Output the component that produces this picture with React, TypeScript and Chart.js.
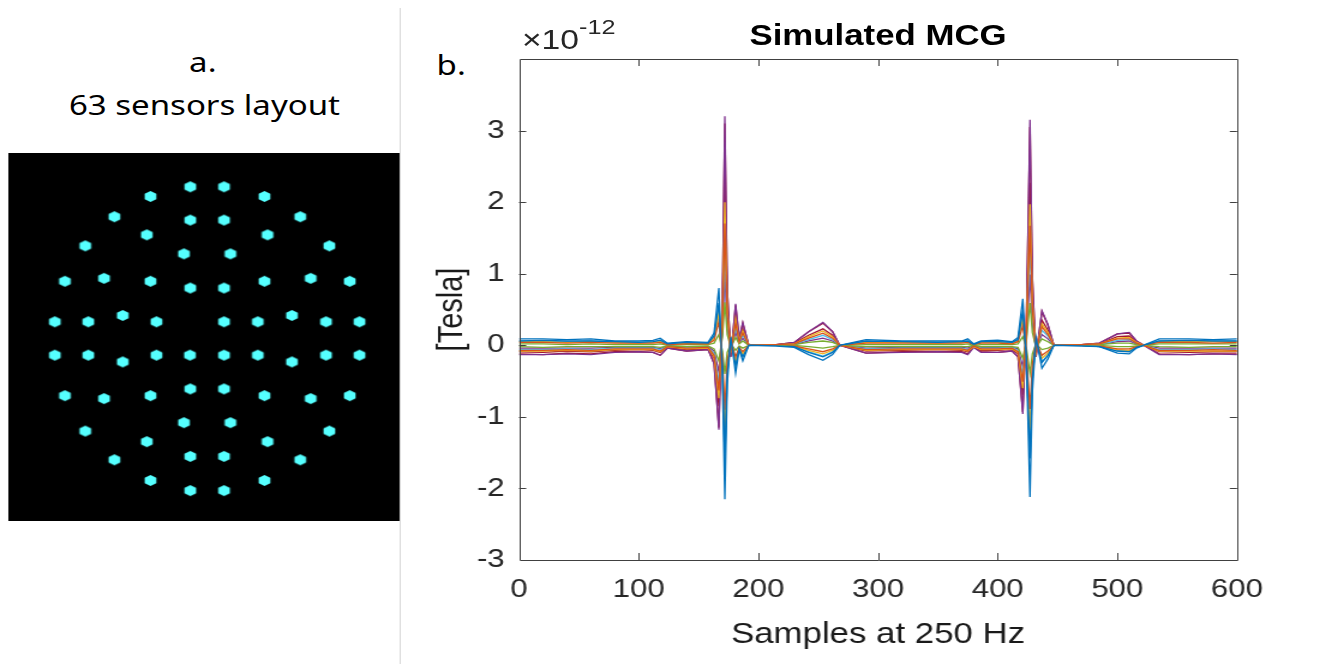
import React, { useEffect, useRef } from 'react';
import { Chart, registerables } from 'chart.js';

Chart.register(...registerables);

// ---------- Panel a: sensor layout (arbitrary layout units, centre = 0,0) ----------
const sensorX = [
  -50, 51, -169, 172, -277, 279, -50, 51, -180, 181, -364, 366, -69, 70,
  -308, 310, -425, -169, 172, 427, -50, 51, -252, 254,
  -455, -355, -151, 51, 152, 356, 456,
  -455, -355, -151, -51, 51, 152, 356, 456,
  -252, 254, -50, 51, -425, -169, 172, 427, -308, 310, -69, 70,
  -364, 366, -180, 181, -50, 51, -277, 279, -169, 172, -50, 51,
];
const sensorY = [
  360, 360, 337, 337, 289, 289, 281, 281, 246, 246, 220, 220, 201, 201,
  143, 143, 136, 136, 136, 136, 120, 120, 55, 55,
  40, 40, 40, 40, 40, 40, 40,
  -39, -39, -39, -39, -39, -39, -39, -39,
  -55, -55, -119, -119, -135, -135, -135, -135, -142, -142, -199, -199,
  -219, -219, -244, -244, -279, -279, -287, -287, -336, -336, -360, -360,
];

// ---------- Panel b: simulated MCG traces (units of 1e-12 T) ----------
const sampleKnots = [
  0, 20, 40, 60, 80, 100,
  112, 118, 124, 140, 158,
  163, 167, 170, 172, 174, 177, 181, 184, 187, 192,
  215, 230, 242, 254, 262, 268,
  290, 320, 350, 370, 375, 380, 386, 400,
  412, 417, 421, 424, 427, 429, 432, 437, 442, 447,
  470, 485, 500, 510, 516, 535, 560, 580, 600,
];

const traceA = [
  0.09, 0.09, 0.08, 0.09, 0.06, 0.06,
  0.07, 0.10, 0.03, 0.05, 0.04,
  0.17, 0.80, -0.43, -2.15, -0.54, 0.11, -0.39, -0.06, -0.22, 0,
  -0.01, -0.03, -0.13, -0.21, -0.13, 0,
  0.08, 0.06, 0.06, 0.06, 0.09, 0.02, 0.06, 0.07,
  0.05, 0.11, 0.65, -0.22, -2.12, -0.65, 0.11, -0.32, -0.19, 0,
  -0.01, -0.02, -0.11, -0.12, -0.04, 0.09, 0.09, 0.08, 0.09,
];
const traceB = [
  -0.07, -0.07, -0.06, -0.07, -0.05, -0.05,
  -0.05, -0.08, -0.02, -0.04, -0.03,
  -0.14, -0.63, 0.34, 1.70, 0.43, -0.09, 0.31, 0.05, 0.17, 0,
  0.01, 0.02, 0.10, 0.17, 0.10, 0,
  -0.06, -0.05, -0.05, -0.05, -0.07, -0.01, -0.05, -0.05,
  -0.04, -0.09, -0.51, 0.17, 1.67, 0.51, -0.09, 0.26, 0.15, 0,
  0.01, 0.02, 0.09, 0.09, 0.03, -0.07, -0.07, -0.06, -0.07,
];
const traceC = [
  -0.08, -0.08, -0.07, -0.08, -0.06, -0.06,
  -0.06, -0.09, -0.02, -0.05, -0.04,
  -0.16, -0.74, 0.40, 2.00, 0.50, -0.10, 0.36, 0.06, 0.20, 0,
  0.01, 0.02, 0.12, 0.20, 0.12, 0,
  -0.07, -0.06, -0.06, -0.06, -0.08, -0.02, -0.06, -0.06,
  -0.05, -0.10, -0.60, 0.20, 1.97, 0.60, -0.10, 0.30, 0.18, 0,
  0.01, 0.02, 0.10, 0.11, 0.04, -0.08, -0.08, -0.08, -0.08,
];
const traceD = [
  -0.13, -0.13, -0.12, -0.13, -0.10, -0.09,
  -0.10, -0.14, -0.04, -0.08, -0.06,
  -0.26, -1.18, 0.64, 3.20, 0.80, -0.16, 0.58, 0.10, 0.32, 0,
  0.01, 0.04, 0.19, 0.32, 0.19, 0,
  -0.11, -0.10, -0.09, -0.10, -0.13, -0.03, -0.10, -0.10,
  -0.08, -0.16, -0.96, 0.32, 3.15, 0.96, -0.16, 0.48, 0.29, 0,
  0.01, 0.03, 0.16, 0.18, 0.06, -0.13, -0.13, -0.12, -0.13,
];
const traceE = [
  -0.02, -0.03, -0.02, -0.02, -0.02, -0.02,
  -0.02, -0.03, -0.01, -0.02, -0.01,
  -0.05, -0.22, 0.12, 0.60, 0.15, -0.03, 0.11, 0.02, 0.06, 0,
  0, 0.01, 0.04, 0.06, 0.04, 0,
  -0.02, -0.02, -0.02, -0.02, -0.02, 0, -0.02, -0.02,
  -0.02, -0.03, -0.18, 0.06, 0.59, 0.18, -0.03, 0.09, 0.05, 0,
  0, 0.01, 0.03, 0.03, 0.01, -0.02, -0.03, -0.02, -0.02,
];
const traceF = [
  -0.06, -0.06, -0.05, -0.06, -0.04, -0.04,
  -0.04, -0.06, -0.02, -0.03, -0.03,
  -0.11, -0.52, 0.28, 1.40, 0.35, -0.07, 0.25, 0.04, 0.14, 0,
  0, 0.02, 0.08, 0.14, 0.08, 0,
  -0.05, -0.04, -0.04, -0.04, -0.06, -0.01, -0.04, -0.04,
  -0.03, -0.07, -0.42, 0.14, 1.38, 0.42, -0.07, 0.21, 0.13, 0,
  0, 0.01, 0.07, 0.08, 0.03, -0.06, -0.06, -0.05, -0.06,
];
const traceG = [
  -0.12, -0.13, -0.11, -0.12, -0.09, -0.09,
  -0.10, -0.14, -0.04, -0.08, -0.06,
  -0.25, -1.15, 0.62, 3.10, 0.78, -0.16, 0.56, 0.09, 0.31, 0,
  0.01, 0.04, 0.19, 0.31, 0.19, 0,
  -0.11, -0.09, -0.09, -0.09, -0.12, -0.02, -0.09, -0.10,
  -0.08, -0.16, -0.93, 0.31, 3.05, 0.93, -0.16, 0.47, 0.28, 0,
  0.01, 0.03, 0.16, 0.17, 0.06, -0.12, -0.13, -0.12, -0.12,
];
const traceH = [
  0.06, 0.07, 0.06, 0.06, 0.05, 0.04,
  0.05, 0.07, 0.02, 0.04, 0.03,
  0.13, 0.59, -0.32, -1.60, -0.40, 0.08, -0.29, -0.05, -0.16, 0,
  0, -0.02, -0.10, -0.16, -0.10, 0,
  0.06, 0.05, 0.04, 0.05, 0.06, 0.01, 0.05, 0.05,
  0.04, 0.08, 0.48, -0.16, -1.58, -0.48, 0.08, -0.24, -0.14, 0,
  0, -0.02, -0.08, -0.09, -0.03, 0.06, 0.07, 0.06, 0.06,
];
const traceI = [
  0.04, 0.04, 0.03, 0.04, 0.03, 0.03,
  0.03, 0.04, 0.01, 0.02, 0.02,
  0.07, 0.33, -0.18, -0.90, -0.23, 0.05, -0.16, -0.03, -0.09, 0,
  0, -0.01, -0.05, -0.09, -0.05, 0,
  0.03, 0.03, 0.03, 0.03, 0.04, 0.01, 0.03, 0.03,
  0.02, 0.05, 0.27, -0.09, -0.89, -0.27, 0.05, -0.14, -0.08, 0,
  0, -0.01, -0.05, -0.05, -0.02, 0.04, 0.04, 0.03, 0.04,
];
const traceJ = [
  0.05, 0.05, 0.04, 0.05, 0.04, 0.03,
  0.04, 0.05, 0.01, 0.03, 0.02,
  0.10, 0.44, -0.24, -1.20, -0.30, 0.06, -0.22, -0.04, -0.12, 0,
  0, -0.01, -0.07, -0.12, -0.07, 0,
  0.04, 0.04, 0.03, 0.04, 0.05, 0.01, 0.04, 0.04,
  0.03, 0.06, 0.36, -0.12, -1.18, -0.36, 0.06, -0.18, -0.11, 0,
  0, -0.01, -0.06, -0.07, -0.02, 0.05, 0.05, 0.05, 0.05,
];
const traceK = [
  -0.04, -0.04, -0.04, -0.04, -0.03, -0.03,
  -0.03, -0.05, -0.01, -0.03, -0.02,
  -0.08, -0.37, 0.20, 1.00, 0.25, -0.05, 0.18, 0.03, 0.10, 0,
  0, 0.01, 0.06, 0.10, 0.06, 0,
  -0.04, -0.03, -0.03, -0.03, -0.04, -0.01, -0.03, -0.03,
  -0.03, -0.05, -0.30, 0.10, 0.99, 0.30, -0.05, 0.15, 0.09, 0,
  0, 0.01, 0.05, 0.06, 0.02, -0.04, -0.04, -0.04, -0.04,
];
const traceL = [
  0.02, 0.02, 0.01, 0.02, 0.01, 0.01,
  0.01, 0.02, 0, 0.01, 0.01,
  0.03, 0.15, -0.08, -0.40, -0.10, 0.02, -0.07, -0.01, -0.04, 0,
  0, 0, -0.02, -0.04, -0.02, 0,
  0.01, 0.01, 0.01, 0.01, 0.02, 0, 0.01, 0.01,
  0.01, 0.02, 0.12, -0.04, -0.39, -0.12, 0.02, -0.06, -0.04, 0,
  0, 0, -0.02, -0.02, -0.01, 0.02, 0.02, 0.02, 0.02,
];
const traceM = [
  0.06, 0.06, 0.05, 0.06, 0.05, 0.04,
  0.05, 0.07, 0.02, 0.04, 0.03,
  0.12, 0.56, -0.30, -1.50, -0.38, 0.08, -0.27, -0.05, -0.15, 0,
  0, -0.02, -0.09, -0.15, -0.09, 0,
  0.05, 0.05, 0.04, 0.05, 0.06, 0.01, 0.05, 0.05,
  0.04, 0.08, 0.45, -0.15, -1.48, -0.45, 0.08, -0.23, -0.14, 0,
  0, -0.02, -0.08, -0.08, -0.03, 0.06, 0.06, 0.06, 0.06,
];
const traceN = [
  -0.09, -0.10, -0.08, -0.09, -0.07, -0.06,
  -0.07, -0.10, -0.03, -0.06, -0.05,
  -0.18, -0.85, 0.46, 2.30, 0.58, -0.12, 0.41, 0.07, 0.23, 0,
  0.01, 0.03, 0.14, 0.23, 0.14, 0,
  -0.08, -0.07, -0.06, -0.07, -0.09, -0.02, -0.07, -0.07,
  -0.06, -0.12, -0.69, 0.23, 2.27, 0.69, -0.12, 0.35, 0.21, 0,
  0.01, 0.02, 0.12, 0.13, 0.05, -0.09, -0.10, -0.09, -0.09,
];

const traces = [traceA, traceB, traceC, traceD, traceE, traceF, traceG, traceH, traceI, traceJ, traceK, traceL, traceM, traceN];
const traceColors = ['#0072BD', '#D95319', '#EDB120', '#7E2F8E', '#77AC30', '#4DBEEE', '#A2142F'];

const xTickValues = [0, 100, 200, 300, 400, 500, 600];
const yTickValues = [-3, -2, -1, 0, 1, 2, 3, 4];

const AXIS_FONT = "'Liberation Sans', Arial, Helvetica, sans-serif";
const PANEL_FONT = "'Noto Sans', 'Open Sans', sans-serif";

// inward MATLAB-style box + ticks on all four sides
const matlabBox = {
  id: 'matlabBox',
  afterDatasetsDraw(chart: any) {
    const { ctx, chartArea } = chart;
    const { left, right, top, bottom } = chartArea;
    const xs = chart.scales.x;
    const ys = chart.scales.y;
    ctx.save();
    ctx.strokeStyle = '#404040';
    ctx.lineWidth = 1;
    ctx.beginPath();
    ctx.rect(Math.round(left) + 0.5, Math.round(top) + 0.5, Math.round(right - left), Math.round(bottom - top));
    ctx.stroke();
    ctx.beginPath();
    xs.ticks.forEach((t: any) => {
      const px = Math.round(xs.getPixelForValue(t.value)) + 0.5;
      if (px <= left + 1 || px >= right - 1) return;
      ctx.moveTo(px, bottom);
      ctx.lineTo(px, bottom - 7);
      ctx.moveTo(px, top);
      ctx.lineTo(px, top + 7);
    });
    ys.ticks.forEach((t: any) => {
      const py = Math.round(ys.getPixelForValue(t.value)) + 0.5;
      if (py <= top + 1 || py >= bottom - 1) return;
      ctx.moveTo(left, py);
      ctx.lineTo(left + 6, py);
      ctx.moveTo(right, py);
      ctx.lineTo(right - 6, py);
    });
    ctx.stroke();
    ctx.restore();
  },
};

function makeHexagon(): HTMLCanvasElement {
  const c = document.createElement('canvas');
  c.width = 13;
  c.height = 13;
  const g = c.getContext('2d')!;
  g.fillStyle = '#55FFFF';
  g.beginPath();
  const r = 5.6;
  for (let k = 0; k < 6; k++) {
    const a = -Math.PI / 2 + (k * Math.PI) / 3;
    const px = 6.5 + r * Math.cos(a);
    const py = 6.5 + r * Math.sin(a);
    if (k === 0) g.moveTo(px, py);
    else g.lineTo(px, py);
  }
  g.closePath();
  g.fill();
  return c;
}

function SensorLayout() {
  const ref = useRef<HTMLCanvasElement>(null);
  useEffect(() => {
    const hex = makeHexagon();
    const chart = new Chart(ref.current!, {
      type: 'scatter',
      data: {
        datasets: [
          {
            data: sensorX.map((x, i) => ({ x, y: sensorY[i] })),
            pointStyle: hex as any,
            pointRadius: 5,
            backgroundColor: '#55FFFF',
            borderColor: '#55FFFF',
          },
        ],
      },
      options: {
        animation: false,
        responsive: false,
        events: [],
        layout: { padding: 0, autoPadding: false },
        plugins: { legend: { display: false }, tooltip: { enabled: false } },
        scales: {
          x: { type: 'linear', min: -594, max: 576, display: false },
          y: { type: 'linear', min: -432, max: 440, display: false },
        },
      },
    });
    return () => chart.destroy();
  }, []);
  return (
    <canvas
      ref={ref}
      width={326}
      height={368}
      style={{ position: 'absolute', left: 7, top: 153, width: 326, height: 368, background: '#000' }}
    />
  );
}

function McgChart() {
  const ref = useRef<HTMLCanvasElement>(null);
  useEffect(() => {
    const chart = new Chart(ref.current!, {
      type: 'line',
      data: {
        datasets: traces.map((tr, i) => ({
          data: tr.map((v, j) => ({ x: sampleKnots[j], y: v })),
          borderColor: traceColors[i % traceColors.length],
          borderWidth: 1.3,
          pointRadius: 0,
          tension: 0,
          fill: false,
        })),
      },
      options: {
        animation: false,
        responsive: false,
        events: [],
        layout: { padding: { top: 59, right: 44.2, bottom: 0, left: 0 } },
        plugins: { legend: { display: false }, tooltip: { enabled: false }, title: { display: false } },
        scales: {
          x: {
            type: 'linear',
            min: 0,
            max: 600,
            afterBuildTicks: (axis: any) => {
              axis.ticks = xTickValues.map((v) => ({ value: v }));
            },
            afterFit: (axis: any) => {
              axis.height = 104;
            },
            grid: { display: false, drawTicks: false },
            border: { display: false },
            ticks: {
              font: { family: AXIS_FONT, size: 26 },
              color: '#262626',
              padding: 14,
              maxRotation: 0,
              autoSkip: false,
            },
            title: {
              display: true,
              text: 'Samples at 250 Hz',
              font: { family: AXIS_FONT, size: 29, lineHeight: 1.2 },
              color: '#1a1a1a',
              padding: { top: 0, bottom: 11.6 },
            },
          },
          y: {
            type: 'linear',
            min: -3,
            max: 4,
            afterBuildTicks: (axis: any) => {
              axis.ticks = yTickValues.map((v) => ({ value: v }));
            },
            afterFit: (axis: any) => {
              axis.width = 87.5;
            },
            grid: { display: false, drawTicks: false },
            border: { display: false },
            ticks: {
              font: { family: AXIS_FONT, size: 26 },
              color: '#262626',
              padding: 12,
              autoSkip: false,
              callback: (v: any) => (v === 4 ? '' : String(v)),
            },
            title: {
              display: true,
              text: '[Tesla]',
              font: { family: AXIS_FONT, size: 29, lineHeight: 1.2 },
              color: '#1a1a1a',
              padding: { top: 14.3, bottom: 0 },
            },
          },
        },
      },
      plugins: [matlabBox],
    });
    return () => chart.destroy();
  }, []);
  return (
    <canvas
      ref={ref}
      width={730}
      height={664}
      style={{ position: 'absolute', left: 345, top: 0, width: 730, height: 664 }}
    />
  );
}

export default function App() {
  const centered = (cx: number, top: number, width: number, height: number): React.CSSProperties => ({
    position: 'absolute',
    left: cx - width / 2,
    top,
    width,
    height,
    lineHeight: `${height}px`,
    textAlign: 'center',
    whiteSpace: 'nowrap',
  });
  return (
    <div
      style={{
        position: 'fixed',
        left: 0,
        top: 0,
        width: 1110,
        height: 664,
        background: '#fff',
        overflow: 'hidden',
        transform: 'scaleX(1.2)',
        transformOrigin: '0 0',
      }}
    >
      <div style={{ ...centered(169, 45, 300, 34), fontFamily: PANEL_FONT, fontSize: 27.5, color: '#000' }}>a.</div>
      <div style={{ ...centered(170.4, 88, 320, 34), fontFamily: PANEL_FONT, fontSize: 27.5, color: '#000' }}>
        63 sensors layout
      </div>
      <SensorLayout />
      <div style={{ position: 'absolute', left: 333, top: 8, width: 1, height: 656, background: '#d9d9d9' }} />

      <div style={{ ...centered(376, 48, 100, 34), fontFamily: PANEL_FONT, fontSize: 27.5, color: '#000' }}>b.</div>
      <McgChart />
      <div
        style={{
          ...centered(731.7, 17, 500, 36),
          fontFamily: AXIS_FONT,
          fontSize: 29,
          fontWeight: 'bold',
          color: '#000',
        }}
      >
        Simulated MCG
      </div>
      <div
        style={{
          position: 'absolute',
          left: 435,
          top: 25,
          height: 30,
          lineHeight: '30px',
          fontFamily: AXIS_FONT,
          fontSize: 28,
          color: '#262626',
          whiteSpace: 'nowrap',
        }}
      >
        ×10
        <span style={{ fontSize: 21, position: 'relative', top: -15 }}>-12</span>
      </div>
    </div>
  );
}
